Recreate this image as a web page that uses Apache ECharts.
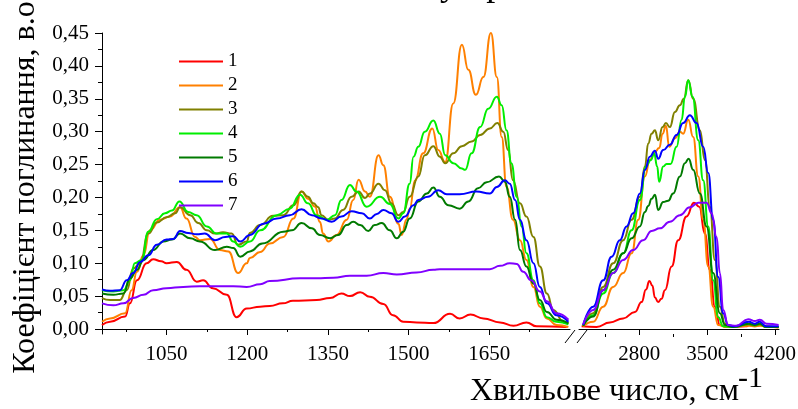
<!DOCTYPE html>
<html>
<head>
<meta charset="utf-8">
<script src="https://cdn.jsdelivr.net/npm/echarts@6/dist/echarts.min.js"></script>
<style>
  html, body { margin: 0; padding: 0; background: #fff; }
  #chart { width: 798px; height: 409px; }
</style>
</head>
<body>
<div id="chart"></div>
<script>
// Absorption spectra: low-wavenumber range (930–1800 cm-1) and high range (2180–4240 cm-1)
const seriesNames = ['1', '2', '3', '4', '5', '6', '7'];
const seriesColors = ['#ff0000', '#ff8000', '#808000', '#00ee00', '#007a00', '#0000ff', '#8000ff'];

const lowTicks = [1050, 1200, 1350, 1500, 1650];
const lowMinorTicks = [975, 1125, 1275, 1425, 1575, 1725];
const highTicks = [2800, 3500, 4200];
const highMinorTicks = [2450, 3150, 3850];
const yTicks = [0, 0.05, 0.10, 0.15, 0.20, 0.25, 0.30, 0.35, 0.40, 0.45];
const yMinorTicks = [0.025, 0.075, 0.125, 0.175, 0.225, 0.275, 0.325, 0.375, 0.425];

const lowRange1 = [[930,0.006],[945,0.011],[973,0.019],[982,0.039],[995,0.074],[1013,0.100],[1025,0.106],[1040,0.103],[1050,0.100],[1069,0.102],[1087,0.090],[1106,0.072],[1118,0.074],[1136,0.062],[1162,0.052],[1180,0.018],[1199,0.031],[1224,0.034],[1242,0.035],[1266,0.039],[1285,0.043],[1329,0.044],[1354,0.047],[1375,0.054],[1391,0.050],[1410,0.056],[1428,0.049],[1453,0.038],[1471,0.021],[1490,0.011],[1515,0.010],[1546,0.009],[1577,0.023],[1595,0.016],[1615,0.022],[1639,0.016],[1670,0.010],[1695,0.005],[1719,0.010],[1738,0.004],[1794,0.003]];
const lowRange2 = [[930,0.011],[945,0.016],[973,0.024],[985,0.059],[995,0.087],[1007,0.112],[1019,0.150],[1038,0.166],[1056,0.171],[1075,0.185],[1087,0.168],[1103,0.140],[1112,0.135],[1131,0.137],[1149,0.120],[1165,0.118],[1183,0.085],[1199,0.100],[1205,0.108],[1224,0.117],[1242,0.130],[1267,0.140],[1286,0.168],[1301,0.209],[1313,0.198],[1326,0.186],[1335,0.163],[1341,0.145],[1351,0.133],[1366,0.143],[1385,0.166],[1397,0.196],[1407,0.227],[1419,0.209],[1428,0.201],[1444,0.264],[1453,0.249],[1465,0.201],[1481,0.160],[1487,0.143],[1496,0.166],[1502,0.183],[1512,0.226],[1527,0.267],[1544,0.305],[1555,0.272],[1568,0.254],[1583,0.343],[1599,0.432],[1611,0.394],[1625,0.356],[1639,0.383],[1653,0.450],[1664,0.383],[1673,0.292],[1682,0.216],[1694,0.166],[1707,0.135],[1719,0.105],[1732,0.064],[1744,0.034],[1757,0.016],[1775,0.006],[1797,0.003]];
const lowRange3 = [[930,0.047],[945,0.044],[963,0.044],[976,0.059],[988,0.092],[1001,0.100],[1016,0.145],[1032,0.162],[1050,0.170],[1066,0.176],[1075,0.185],[1094,0.173],[1109,0.161],[1125,0.150],[1140,0.145],[1155,0.147],[1171,0.145],[1183,0.128],[1199,0.133],[1205,0.146],[1224,0.158],[1248,0.172],[1267,0.173],[1286,0.188],[1301,0.209],[1313,0.201],[1323,0.191],[1332,0.185],[1338,0.173],[1351,0.166],[1363,0.168],[1378,0.181],[1394,0.201],[1407,0.209],[1419,0.199],[1428,0.206],[1444,0.221],[1456,0.211],[1468,0.191],[1481,0.173],[1490,0.178],[1502,0.201],[1518,0.232],[1530,0.264],[1546,0.278],[1558,0.262],[1568,0.252],[1583,0.267],[1599,0.278],[1617,0.285],[1633,0.295],[1651,0.305],[1665,0.313],[1676,0.300],[1685,0.272],[1694,0.226],[1707,0.191],[1719,0.171],[1732,0.140],[1744,0.095],[1757,0.054],[1769,0.029],[1788,0.011],[1797,0.008]];
const lowRange4 = [[930,0.059],[951,0.057],[970,0.059],[982,0.074],[991,0.100],[1004,0.105],[1016,0.148],[1032,0.167],[1047,0.176],[1060,0.180],[1074,0.194],[1090,0.178],[1106,0.173],[1125,0.156],[1143,0.145],[1162,0.145],[1174,0.133],[1187,0.125],[1205,0.133],[1224,0.150],[1255,0.173],[1279,0.183],[1298,0.204],[1313,0.191],[1329,0.173],[1348,0.166],[1363,0.173],[1375,0.196],[1391,0.219],[1403,0.209],[1422,0.186],[1447,0.201],[1465,0.190],[1481,0.168],[1490,0.176],[1502,0.221],[1509,0.262],[1518,0.277],[1530,0.300],[1546,0.317],[1558,0.297],[1568,0.264],[1583,0.252],[1599,0.244],[1605,0.242],[1617,0.267],[1633,0.307],[1648,0.335],[1664,0.353],[1673,0.340],[1682,0.302],[1691,0.252],[1701,0.201],[1710,0.156],[1719,0.115],[1732,0.074],[1744,0.039],[1757,0.018],[1775,0.011],[1797,0.007]];
const lowRange5 = [[930,0.054],[951,0.052],[970,0.054],[982,0.077],[995,0.090],[1007,0.105],[1025,0.120],[1044,0.133],[1060,0.136],[1075,0.145],[1094,0.138],[1112,0.133],[1140,0.120],[1162,0.125],[1174,0.123],[1187,0.110],[1205,0.118],[1228,0.130],[1267,0.148],[1283,0.150],[1301,0.161],[1320,0.153],[1335,0.143],[1354,0.138],[1369,0.143],[1385,0.158],[1397,0.163],[1410,0.158],[1425,0.149],[1437,0.158],[1450,0.161],[1465,0.150],[1478,0.138],[1490,0.148],[1502,0.168],[1518,0.194],[1534,0.206],[1546,0.215],[1558,0.201],[1574,0.188],[1595,0.183],[1611,0.194],[1629,0.214],[1645,0.223],[1668,0.232],[1679,0.224],[1688,0.201],[1698,0.166],[1707,0.120],[1719,0.095],[1732,0.069],[1744,0.044],[1757,0.026],[1775,0.014],[1797,0.009]];
const lowRange6 = [[930,0.060],[945,0.058],[963,0.059],[976,0.074],[988,0.085],[1001,0.102],[1016,0.112],[1032,0.128],[1050,0.136],[1063,0.137],[1075,0.149],[1090,0.146],[1106,0.144],[1121,0.145],[1140,0.135],[1159,0.140],[1174,0.141],[1187,0.133],[1205,0.143],[1230,0.160],[1255,0.168],[1279,0.173],[1301,0.182],[1320,0.173],[1338,0.168],[1357,0.163],[1375,0.171],[1394,0.179],[1413,0.176],[1428,0.168],[1441,0.175],[1453,0.181],[1468,0.176],[1481,0.163],[1493,0.171],[1509,0.188],[1518,0.196],[1536,0.201],[1555,0.211],[1571,0.205],[1595,0.205],[1626,0.209],[1651,0.206],[1664,0.216],[1679,0.226],[1688,0.221],[1698,0.196],[1707,0.166],[1719,0.135],[1732,0.100],[1744,0.064],[1757,0.039],[1775,0.021],[1797,0.011]];
const lowRange7 = [[930,0.039],[951,0.036],[970,0.039],[988,0.047],[1007,0.052],[1025,0.059],[1050,0.062],[1081,0.064],[1112,0.065],[1143,0.065],[1174,0.065],[1199,0.064],[1224,0.068],[1242,0.073],[1298,0.077],[1329,0.077],[1360,0.078],[1391,0.081],[1422,0.081],[1453,0.085],[1478,0.083],[1515,0.086],[1546,0.090],[1558,0.091],[1608,0.091],[1651,0.091],[1670,0.096],[1688,0.100],[1701,0.099],[1713,0.087],[1728,0.074],[1744,0.057],[1757,0.042],[1775,0.024],[1797,0.014]];

const highRange1 = [[2207,0.004],[2361,0.003],[2498,0.010],[2635,0.016],[2756,0.026],[2825,0.041],[2870,0.060],[2905,0.073],[2935,0.066],[2962,0.048],[2995,0.041],[3030,0.046],[3065,0.059],[3134,0.095],[3202,0.135],[3288,0.171],[3363,0.192],[3418,0.186],[3477,0.145],[3528,0.090],[3580,0.034],[3631,0.006],[3700,0.003],[3900,0.004],[3935,0.006],[3990,0.004],[4045,0.006],[4110,0.003],[4236,0.003]];
const highRange2 = [[2223,0.004],[2326,0.011],[2429,0.034],[2532,0.064],[2635,0.085],[2722,0.115],[2790,0.166],[2859,0.232],[2910,0.257],[2962,0.269],[3006,0.275],[3041,0.297],[3075,0.309],[3109,0.277],[3168,0.290],[3219,0.300],[3253,0.297],[3305,0.318],[3356,0.292],[3408,0.232],[3459,0.166],[3511,0.095],[3562,0.034],[3614,0.006],[3700,0.003],[3930,0.005],[3990,0.004],[4040,0.005],[4236,0.002]];
const highRange3 = [[2223,0.005],[2326,0.024],[2429,0.064],[2532,0.100],[2635,0.135],[2722,0.166],[2807,0.201],[2859,0.247],[2893,0.282],[2928,0.297],[2962,0.302],[2996,0.287],[3041,0.307],[3075,0.313],[3116,0.307],[3168,0.330],[3219,0.340],[3260,0.350],[3305,0.378],[3356,0.350],[3425,0.302],[3477,0.257],[3528,0.186],[3580,0.105],[3631,0.034],[3683,0.008],[3768,0.003],[3930,0.007],[3990,0.005],[4040,0.007],[4110,0.003],[4236,0.003]];
const highRange4 = [[2223,0.005],[2326,0.021],[2429,0.054],[2532,0.085],[2635,0.115],[2722,0.150],[2807,0.196],[2869,0.247],[2920,0.257],[2954,0.267],[2985,0.247],[3006,0.224],[3047,0.247],[3082,0.251],[3123,0.251],[3185,0.277],[3237,0.318],[3271,0.353],[3305,0.378],[3350,0.353],[3408,0.287],[3459,0.226],[3511,0.156],[3562,0.074],[3614,0.018],[3665,0.004],[3768,0.003],[3930,0.008],[3990,0.006],[4040,0.008],[4110,0.003],[4236,0.003]];
const highRange5 = [[2223,0.005],[2326,0.019],[2429,0.059],[2532,0.090],[2635,0.115],[2722,0.138],[2807,0.156],[2859,0.178],[2893,0.187],[2928,0.198],[2962,0.204],[2996,0.181],[3047,0.193],[3099,0.195],[3150,0.206],[3219,0.232],[3271,0.252],[3309,0.259],[3356,0.242],[3425,0.206],[3494,0.156],[3562,0.085],[3631,0.024],[3683,0.006],[3768,0.003],[3930,0.008],[3990,0.006],[4040,0.008],[4110,0.003],[4236,0.003]];
const highRange6 = [[2223,0.006],[2326,0.034],[2429,0.074],[2516,0.110],[2601,0.135],[2670,0.156],[2738,0.176],[2807,0.206],[2859,0.242],[2910,0.262],[2962,0.271],[2996,0.259],[3047,0.272],[3116,0.280],[3185,0.295],[3253,0.313],[3322,0.325],[3391,0.313],[3459,0.277],[3511,0.237],[3562,0.166],[3614,0.079],[3665,0.024],[3716,0.006],[3780,0.004],[3930,0.011],[3990,0.008],[4040,0.011],[4110,0.004],[4236,0.004]];
const highRange7 = [[2223,0.007],[2326,0.029],[2429,0.059],[2532,0.085],[2635,0.105],[2738,0.120],[2841,0.135],[2928,0.149],[3013,0.153],[3116,0.163],[3219,0.173],[3322,0.185],[3408,0.192],[3494,0.192],[3546,0.176],[3597,0.140],[3631,0.085],[3665,0.029],[3716,0.006],[3800,0.005],[3923,0.015],[3992,0.012],[4043,0.014],[4112,0.008],[4236,0.006]];

const lowRanges = [lowRange1, lowRange2, lowRange3, lowRange4, lowRange5, lowRange6, lowRange7];
const highRanges = [highRange1, highRange2, highRange3, highRange4, highRange5, highRange6, highRange7];

const FONT = '"Liberation Serif", "Times New Roman", serif';
const Y_MIN = -0.0076, Y_MAX = 0.45;

function lineSeries(name, color, data, axisIdx) {
  return {
    name: name, type: 'line', data: data,
    xAxisIndex: axisIdx, yAxisIndex: axisIdx === 0 ? 0 : 2,
    symbol: 'none', showSymbol: false,
    smooth: 0.5, smoothMonotone: 'x',
    lineStyle: { color: color, width: 2 },
    itemStyle: { color: color },
    emphasis: { disabled: true },
    z: 3
  };
}

const series = [];
seriesNames.forEach((n, i) => {
  series.push(lineSeries(n, seriesColors[i], lowRanges[i], 0));
  series.push(lineSeries(n, seriesColors[i], highRanges[i], 2));
});

const axisLineStyle = { show: true, lineStyle: { color: '#000', width: 1 } };
const labelStyle = { fontFamily: FONT, fontSize: 21, color: '#000' };

const chart = echarts.init(document.getElementById('chart'), null, { renderer: 'canvas' });
chart.setOption({
  animation: false,
  backgroundColor: '#fff',
  grid: [
    { left: 102, top: 33, width: 468, height: 301, outerBoundsMode: 'none', containLabel: false },
    { left: 579, top: 33, width: 200, height: 301, outerBoundsMode: 'none', containLabel: false }
  ],
  legend: {
    data: seriesNames,
    orient: 'vertical',
    left: 173, top: 47,
    itemWidth: 44, itemHeight: 14, itemGap: 5,
    itemStyle: { opacity: 0 },
    textStyle: { fontFamily: FONT, fontSize: 19, color: '#000' },
    selectedMode: false
  },
  xAxis: [
    { gridIndex: 0, type: 'value', min: 930, max: 1800, position: 'bottom',
      axisLine: axisLineStyle,
      axisTick: { show: true, inside: false, length: 6, customValues: lowTicks, lineStyle: { color: '#000' } },
      axisLabel: Object.assign({ customValues: lowTicks, margin: 10, formatter: v => String(v) }, labelStyle),
      splitLine: { show: false } },
    { gridIndex: 0, type: 'value', min: 930, max: 1800, position: 'bottom',
      axisLine: { show: false },
      axisTick: { show: true, inside: false, length: 3, customValues: lowMinorTicks, lineStyle: { color: '#000' } },
      axisLabel: { show: false }, splitLine: { show: false } },
    { gridIndex: 1, type: 'value', min: 2180, max: 4240, position: 'bottom',
      axisLine: axisLineStyle,
      axisTick: { show: true, inside: false, length: 6, customValues: highTicks, lineStyle: { color: '#000' } },
      axisLabel: Object.assign({ customValues: highTicks, margin: 10, formatter: v => String(v) }, labelStyle),
      splitLine: { show: false } },
    { gridIndex: 1, type: 'value', min: 2180, max: 4240, position: 'bottom',
      axisLine: { show: false },
      axisTick: { show: true, inside: false, length: 3, customValues: highMinorTicks, lineStyle: { color: '#000' } },
      axisLabel: { show: false }, splitLine: { show: false } }
  ],
  yAxis: [
    { gridIndex: 0, type: 'value', min: Y_MIN, max: Y_MAX, position: 'left',
      name: 'Коефіцієнт поглинання, в.о.', nameLocation: 'middle', nameRotate: 90, nameGap: 54,
      nameTextStyle: { fontFamily: FONT, fontSize: 32, color: '#000' },
      axisLine: axisLineStyle,
      axisTick: { show: true, inside: false, length: 7, customValues: yTicks, lineStyle: { color: '#000' } },
      axisLabel: Object.assign({ customValues: yTicks, margin: 13, formatter: v => v.toFixed(2).replace('.', ',') }, labelStyle),
      splitLine: { show: false } },
    { gridIndex: 0, type: 'value', min: Y_MIN, max: Y_MAX, position: 'left',
      axisLine: { show: false },
      axisTick: { show: true, inside: false, length: 4, customValues: yMinorTicks, lineStyle: { color: '#000' } },
      axisLabel: { show: false }, splitLine: { show: false } },
    { gridIndex: 1, type: 'value', min: Y_MIN, max: Y_MAX, show: false }
  ],
  graphic: [
    // axis break marks
    { type: 'line', shape: { x1: 565, y1: 343, x2: 575, y2: 330 }, style: { stroke: '#000', lineWidth: 1 } },
    { type: 'line', shape: { x1: 577, y1: 343, x2: 587, y2: 330 }, style: { stroke: '#000', lineWidth: 1 } },
    // x-axis title with superscript
    { type: 'text', x: 470, y: 376, style: { text: 'Хвильове число, см', font: '32px "Liberation Serif"', fill: '#000', verticalAlign: 'top' } },
    { type: 'text', x: 738, y: 364, style: { text: '-1', font: '30px "Liberation Serif"', fill: '#000', verticalAlign: 'top' } },
    // heading
    { type: 'text', x: 440, y: -32, style: { text: 'у пр', font: '36px "Liberation Serif"', fill: '#000', verticalAlign: 'top' } }
  ],
  series: series
});
</script>
</body>
</html>
